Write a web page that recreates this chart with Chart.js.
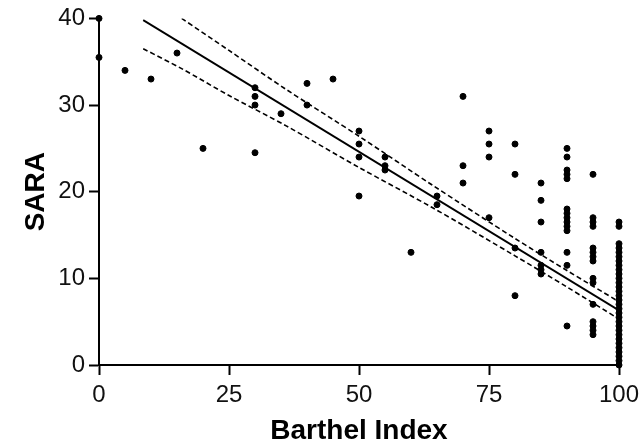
<!DOCTYPE html>
<html>
<head>
<meta charset="utf-8">
<script src="https://cdn.jsdelivr.net/npm/chart.js@4/dist/chart.umd.min.js"></script>
<style>
  html, body { margin: 0; padding: 0; background: #fff; }
  #wrap { width: 639px; height: 445px; }
</style>
</head>
<body>
<div id="wrap"><canvas id="saraChart" width="639" height="445"></canvas></div>
<script>
/* SARA vs Barthel Index scatter with regression line and 95% bands
------------------------------------------------------------------ */

// patients: Barthel Index (x) and SARA score (y)
var barthel = [
  0, 0, 5, 10, 15, 20,
  30, 30, 30, 30, 35, 40, 40, 45,
  50, 50, 50, 50, 55, 55, 55, 60, 65, 65,
  70, 70, 70, 75, 75, 75, 75, 80, 80, 80, 80,
  85, 85, 85, 85, 85, 85, 85,
  90, 90, 90, 90, 90, 90, 90, 90, 90, 90, 90, 90, 90, 90,
  95, 95, 95, 95, 95, 95, 95, 95, 95, 95, 95, 95, 95, 95, 95,
  100, 100, 100, 100, 100, 100, 100, 100, 100, 100, 100, 100, 100, 100, 100, 100,
  100, 100, 100, 100, 100, 100, 100, 100, 100, 100, 100, 100, 100, 100, 100
];
var sara = [
  40, 35.5, 34, 33, 36, 25,
  32, 31, 30, 24.5, 29, 32.5, 30, 33,
  27, 25.5, 24, 19.5, 24, 23, 22.5, 13, 19.5, 18.5,
  31, 23, 21, 27, 25.5, 24, 17, 25.5, 22, 13.5, 8,
  21, 19, 16.5, 13, 11.5, 11, 10.5,
  25, 24, 22.5, 22, 21.5, 18, 17.5, 17, 16.5, 16, 15.5, 13, 11.5, 4.5,
  22, 17, 16.5, 16, 13.5, 13, 12.5, 12, 10, 9.5, 7, 5, 4.5, 4, 3.5,
  16.5, 16, 14, 13.5, 13, 12.5, 12, 11.5, 11, 10.5, 10, 9.5, 9, 8.5, 8, 7.5,
  7, 6.5, 6, 5.5, 5, 4.5, 4, 3.5, 3, 2.5, 2, 1.5, 1, 0.5, 0
];

// regression line ends
var fitX = [8.5, 100];
var fitY = [39.8, 6.3];

// confidence bands
var upperX = [15.9, 25, 36, 50, 64, 80, 90, 100];
var upperY = [40, 36.3, 31.8, 26.4, 20.8, 14.6, 10.9, 7.3];
var lowerX = [8.5, 15.9, 25, 36, 50, 64, 80, 90, 100];
var lowerY = [36.5, 34.2, 31.1, 27.6, 22.8, 18.2, 12.6, 9.0, 5.3];

var xTicks = [0, 25, 50, 75, 100];
var yTicks = [0, 10, 20, 30, 40];

function pairs(xs, ys) {
  return xs.map(function (x, i) { return { x: x, y: ys[i] }; });
}

var tickFont = { family: 'Liberation Sans, Arial', size: 24 };
var titleFont = { family: 'Liberation Sans, Arial', size: 28, weight: 'bold', lineHeight: 1 };

var ctx = document.getElementById('saraChart');
new Chart(ctx, {
  type: 'scatter',
  data: {
    datasets: [
      {
        data: pairs(barthel, sara),
        backgroundColor: '#000',
        borderColor: '#000',
        pointRadius: 3,
        pointHoverRadius: 3,
        clip: false
      },
      {
        type: 'line',
        data: pairs(fitX, fitY),
        borderColor: '#000',
        borderWidth: 1.8,
        pointRadius: 0,
        fill: false
      },
      {
        type: 'line',
        data: pairs(upperX, upperY),
        borderColor: '#000',
        borderWidth: 1.6,
        borderDash: [5, 3],
        pointRadius: 0,
        tension: 0.3,
        fill: false
      },
      {
        type: 'line',
        data: pairs(lowerX, lowerY),
        borderColor: '#000',
        borderWidth: 1.6,
        borderDash: [5, 3],
        pointRadius: 0,
        tension: 0.3,
        fill: false
      }
    ]
  },
  options: {
    responsive: false,
    animation: false,
    layout: { padding: { top: 18, right: 20, left: 0, bottom: 0 } },
    plugins: { legend: { display: false }, tooltip: { enabled: false } },
    scales: {
      x: {
        type: 'linear',
        min: 0, max: 100,
        afterBuildTicks: function (axis) {
          axis.ticks = xTicks.map(function (v) { return { value: v }; });
        },
        afterFit: function (axis) {
          axis.height = 80;
          // let "100" run off the right edge like the original
          axis.paddingRight = 0;
          axis.paddingLeft = 0;
        },
        grid: { drawOnChartArea: false, drawTicks: true, tickLength: 10, color: '#000', tickWidth: 2 },
        border: { display: true, color: '#000', width: 2 },
        ticks: { color: '#111', font: tickFont, padding: 6, maxRotation: 0 },
        title: {
          display: true,
          text: 'Barthel Index',
          color: '#000',
          font: titleFont,
          padding: { top: 0, bottom: 0 }
        }
      },
      y: {
        type: 'linear',
        min: 0, max: 40,
        afterBuildTicks: function (axis) {
          axis.ticks = yTicks.map(function (v) { return { value: v }; });
        },
        afterFit: function (axis) { axis.width = 99; },
        grid: { drawOnChartArea: false, drawTicks: true, tickLength: 10, color: '#000', tickWidth: 2 },
        border: { display: true, color: '#000', width: 2 },
        ticks: { color: '#111', font: tickFont, padding: 4 },
        title: {
          display: true,
          text: 'SARA',
          color: '#000',
          font: titleFont,
          padding: { top: 22, bottom: 0 }
        }
      }
    }
  }
});
</script>
</body>
</html>
